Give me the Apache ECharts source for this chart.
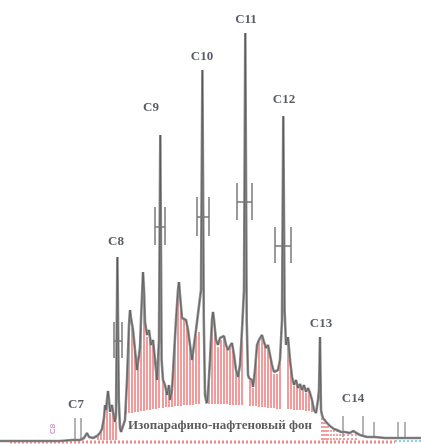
<!DOCTYPE html>
<html><head><meta charset="utf-8">
<script src="https://cdn.jsdelivr.net/npm/echarts@6/dist/echarts.min.js"></script>
<style>html,body{margin:0;padding:0;background:#fff}#c{width:421px;height:444px}</style>
</head><body><div id="c"></div>
<script>
// Chromatogram trace: retention position and detector signal
const traceX = [0,20,40,60,72,80,84,87,89,93,97,100,102,104,105,106,107,108,109,110,111,112,113,115,116,117.4,118.8,120,121,123,125,127,129,130,131,133,135,137,139,140,141,143,144,145,147,149,151,153,155,157,159,160.3,161.6,163,165,167,169,170,172,174,176,178,179,180,182,184,186,188,190,192,194,196,198,201,202.4,203.8,205,206,207,208,210,212,213,214,216,218,220,222,224,226,228,230,232,234,236,238,240,242,244,245.3,246.7,248,249,250,252,253,255,257,259,261,262,264,266,268,270,272,274,276,278,280,282,283.3,284.6,286,287,288,290,292,294,296,298,300,302,304,306,308,310,312,314,316,318,319,320,321,322,323,325,327,330,334,337,341,345,350,352,353,355,360,367,375,385,395,405,421];
const traceY = [-1,-1,-1,-1,0,0,2,7,3,2,4,7,11,22,35,30,40,49,40,28,32,35,28,18,25,183,40,12,8,7,20,60,115,130,122,110,90,70,85,93,120,168,150,118,105,110,95,100,80,60,100,305,80,60,55,45,55,40,50,85,120,150,158,145,122,122,120,110,95,80,95,110,112,150,370,120,45,40,37,47,80,120,128,120,100,95,102,100,104,95,90,94,97,85,70,63,75,110,150,407,120,65,62,62,60,53,70,95,100,102,105,98,92,95,85,75,68,67,70,80,120,324,130,95,95,103,80,63,55,60,52,56,50,55,48,52,47,40,30,27,40,50,103,30,25,22,20,17,14,11,10,8,8,7,7,9,7,5,3,3,2,2,2,2];

// Individual component bars above the isoparaffin-naphthene background
const barX    = [98,101,104,107,110,113,116,126,129,132,135,138,141,144,147,150,153,156,159,163,166,169,172,175,178,181,184,187,190,193,196,199,206,209,212,215,218,221,224,227,230,233,236,239,242,250,253,256,259,262,265,268,271,274,277,280,288,291,294,297,300,303,306,309,312];
const barBase = [0,0,0,0,0,0,0,26,27,27,28,28,29,29,30,30,31,31,32,32,33,33,33,34,34,34,35,35,35,35,36,36,36,36,36,36,36,36,36,36,35,35,35,35,35,34,34,34,33,33,33,32,32,32,31,31,31,31,30,30,30,30,29,29,28];
const barTop  = [5,9,20,37,27,26,18,40,108,112,88,78,115,140,103,100,98,70,95,60,50,52,50,100,145,130,120,112,93,85,105,108,43,65,118,108,93,100,102,92,92,90,68,68,100,62,52,82,98,102,95,93,80,66,66,78,100,70,54,56,54,52,47,50,38];

// Tail (after C13) dotted bars
const tailX   = [322,324,326,328,331,334,337,340,344,348,352,356];
const tailTop = [28,21,19,16,13,11,10,9,8,7,7,6];

// Thin peak markers (C7 and C14 region)
const thinX    = [75,81,343,363,374,398,405];
const thinBase = [0,0,3,3,2,2,2];
const thinTop  = [22,22,24,24,18,18,18];

// H-shaped peak-width markers: left, right, low, high, mid
const hLeft  = [114,155,197,237,275];
const hRight = [122,165,209,252,291];
const hLow   = [82,195,204,220,177];
const hHigh  = [118,233,243,257,213];
const hMid   = [99,213,223,238,194];

// Peak labels
const peakNames = ['C7','C8','C9','C10','C11','C12','C13','C14'];
const peakLabX  = [76,116,151,202,246,284,321,353];
const peakLabY  = [35,198,332,383,420,340,116,41];

const chart = echarts.init(document.getElementById('c'), null, {renderer:'canvas'});

function segRender(color, width, dash){
  return function(params, api){
    const p1 = api.coord([api.value(0), api.value(1)]);
    const p2 = api.coord([api.value(0), api.value(2)]);
    return {type:'line', shape:{x1:p1[0],y1:p1[1],x2:p2[0],y2:p2[1]},
      style:{stroke:color, lineWidth:width, lineDash:dash||null}};
  };
}

const option = {
  animation:false,
  backgroundColor:'#ffffff',
  grid:{left:0,right:0,top:0,bottom:0},
  xAxis:{type:'value',min:0,max:421,show:false},
  yAxis:{type:'value',min:-4,max:440,show:false},
  series:[
    {type:'line', data:[[10,-2],[395,-2]], showSymbol:false, z:1,
     lineStyle:{color:'#f08a8a',width:3,type:[2,2]}},
    {type:'line', data:[[395,-1],[421,-1]], showSymbol:false, z:1,
     lineStyle:{color:'#7fd6e0',width:2,type:[2,2]}},
    {type:'custom', z:2, renderItem:segRender('#f59a9a',2),
     data:barX.map((x,i)=>[x,barBase[i],barTop[i]])},
    {type:'custom', z:2, renderItem:segRender('#f08080',1.5,[2,2]),
     data:tailX.map((x,i)=>[x,0,tailTop[i]])},
    {type:'custom', z:3, renderItem:segRender('#8a8a8a',1.3),
     data:thinX.map((x,i)=>[x,thinBase[i],thinTop[i]])},
    {type:'line', z:4, showSymbol:false, data:traceX.map((x,i)=>[x,traceY[i]]),
     lineStyle:{color:'#8f8f8f',width:2.6,join:'bevel'}},
    {type:'line', z:5, showSymbol:false, data:traceX.map((x,i)=>[x,traceY[i]]),
     lineStyle:{color:'#444',width:0.8,opacity:0.7,join:'bevel'}},
    {type:'custom', z:6,
     renderItem:function(params, api){
       const l=api.value(0), r=api.value(1), lo=api.value(2), hi=api.value(3), m=api.value(4);
       const a=api.coord([l,lo]), b=api.coord([l,hi]), c=api.coord([r,lo]), d=api.coord([r,hi]);
       const e=api.coord([l,m]), f=api.coord([r,m]);
       const st={stroke:'#9a9a9a',lineWidth:2};
       return {type:'group',children:[
         {type:'line',shape:{x1:a[0],y1:a[1],x2:b[0],y2:b[1]},style:st},
         {type:'line',shape:{x1:c[0],y1:c[1],x2:d[0],y2:d[1]},style:st},
         {type:'line',shape:{x1:e[0],y1:e[1],x2:f[0],y2:f[1]},style:{stroke:'#777',lineWidth:1.5}}
       ]};
     },
     data:hLeft.map((l,i)=>[l,hRight[i],hLow[i],hHigh[i],hMid[i]])},
    {type:'scatter', z:7, symbolSize:0,
     data:peakNames.map((n,i)=>({name:n,value:[peakLabX[i],peakLabY[i]]})),
     label:{show:true,position:'inside',formatter:'{b}',color:'#2f3440',
       fontFamily:'Liberation Serif',fontWeight:'bold',fontSize:13}},
    {type:'scatter', z:7, symbolSize:0,
     data:[{name:'Изопарафино-нафтеновый фон',value:[220,14]}],
     label:{show:true,position:'inside',formatter:'{b}',color:'#333',
       fontFamily:'Liberation Serif',fontWeight:'bold',fontSize:13}},
    {type:'scatter', z:7, symbolSize:0,
     data:[{name:'C8',value:[53,11]}],
     label:{show:true,position:'inside',formatter:'{b}',color:'#b050b0',rotate:90,
       fontFamily:'Liberation Sans',fontSize:8}}
  ]
};
chart.setOption(option);
</script>
</body></html>
